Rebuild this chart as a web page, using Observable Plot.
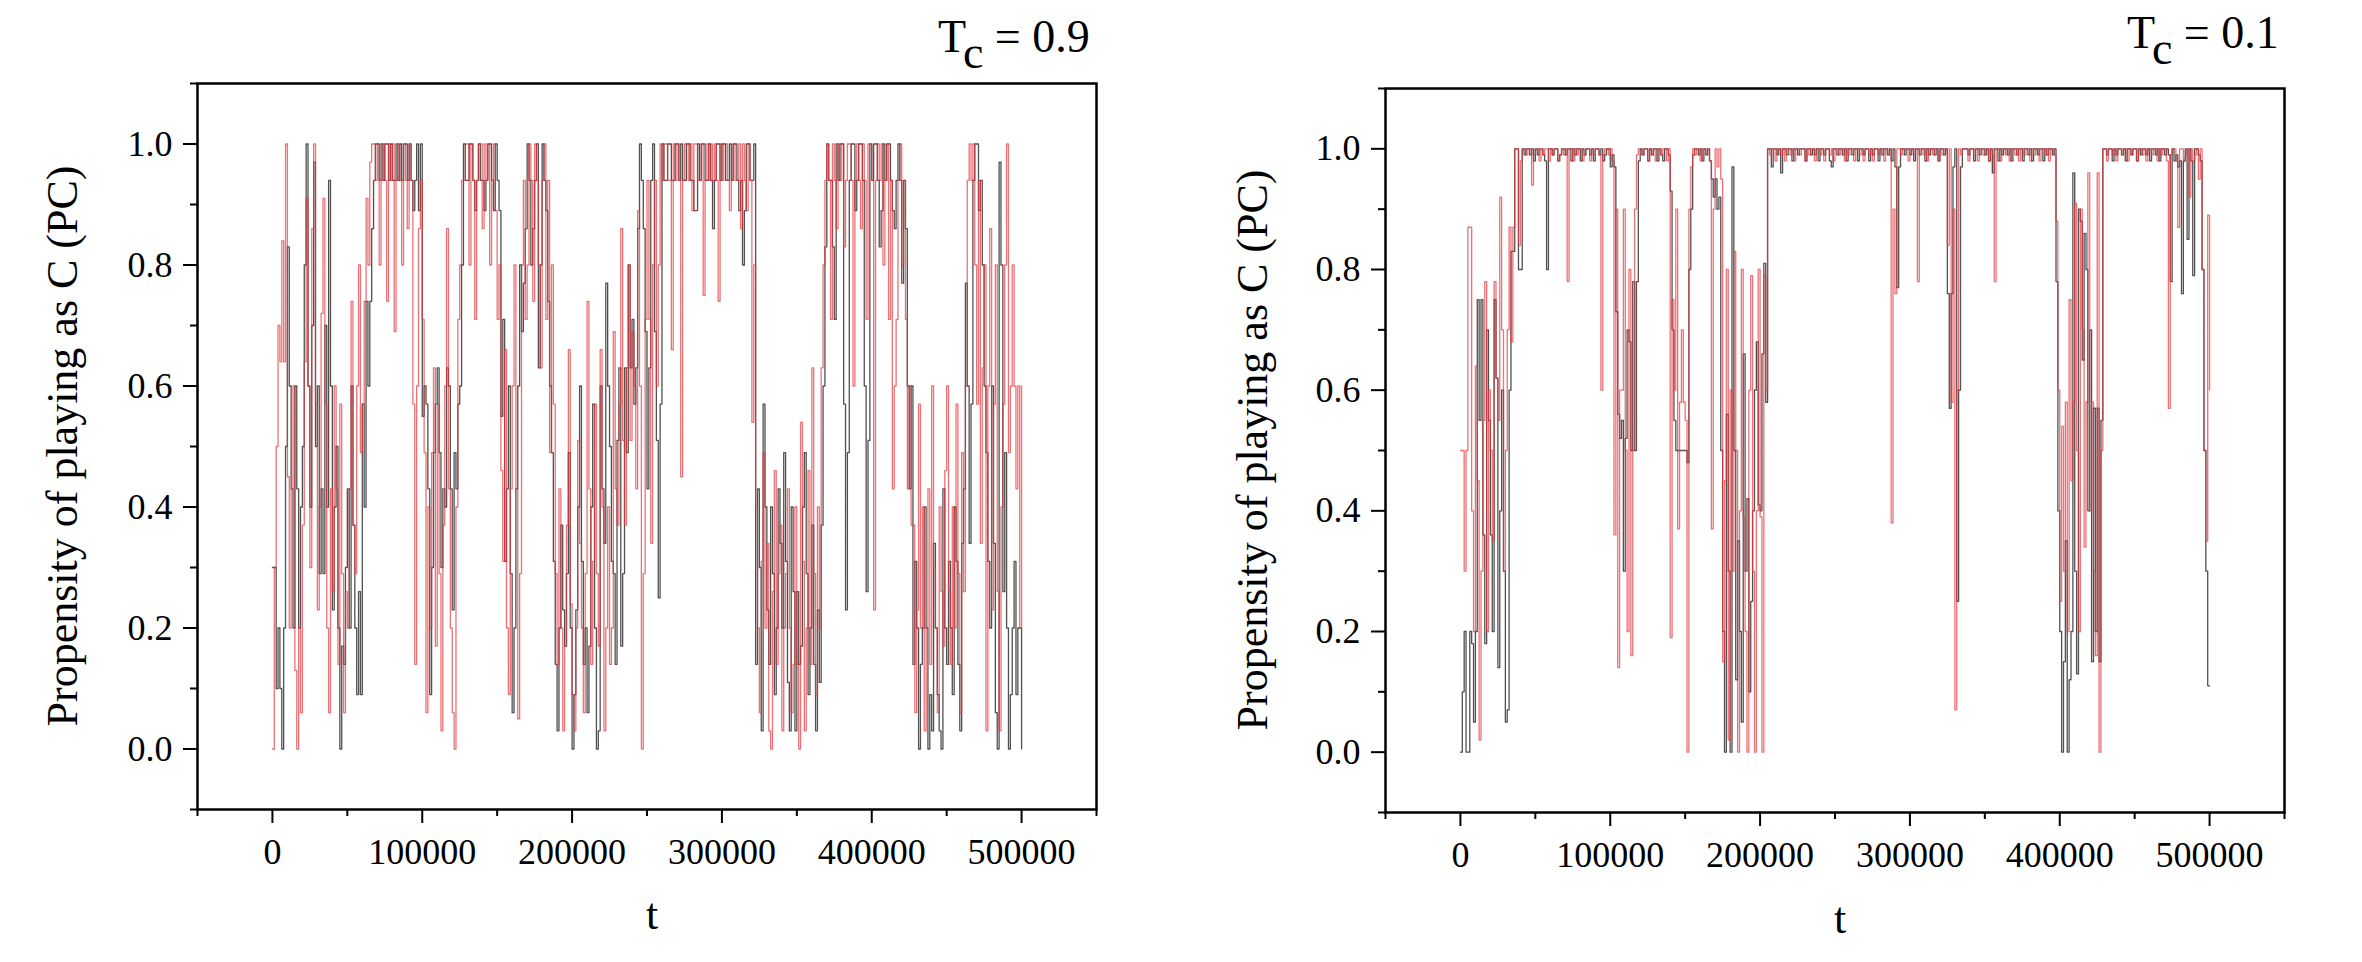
<!DOCTYPE html>
<html>
<head>
<meta charset="utf-8">
<script src="https://cdn.jsdelivr.net/npm/d3@7"></script>
<script src="https://cdn.jsdelivr.net/npm/@observablehq/plot@0.6"></script>
<style>
  html, body { margin: 0; padding: 0; background: #fff; }
  #fig { position: relative; width: 2362px; height: 962px; background: #fff; overflow: hidden; }
  .panel { position: absolute; top: 0; }
  #overlay { position: absolute; left: 0; top: 0; pointer-events: none; }
</style>
</head>
<body>
<div id="fig">
  <div id="left" class="panel" style="left:0px"></div>
  <div id="right" class="panel" style="left:1181px"></div>
</div>
<script>
// ---- data: propensity samples on a regular time grid, t = 0 .. 500000 ----
const tStep = 1250;   // sampling interval of the series below

const titles = ["0.9", "0.1"];
const yLabel = "Propensity of playing as C (PC)";
const xLabel = "t";
const xTicks = [0, 100000, 200000, 300000, 400000, 500000];
const xMinorTicks = [-50000, 50000, 150000, 250000, 350000, 450000, 550000];
const yTicks = [0, 0.2, 0.4, 0.6, 0.8, 1.0];
const yMinorTicks = [-0.1, 0.1, 0.3, 0.5, 0.7, 0.9, 1.1];

// Tc = 0.9 (left), black series
const leftBlack = [
  0.3,0.3,0.1,0.2,0.1,0,0.2,0.5,0.83,0.6,0.43,0.2,0.6,0.43,0.2,0.4,0.5,0.8,1,0.6,0.4,0.7,0.97,0.5,0.6,0.29,0.43,0.29,0.7,0.4,0.94,0.6,0.23,0.4,0.5,0.2,0,0.17,0.14,0.3,0.43,0.2,0.6,0.37,0.2,0.09,0.26,0.09,0.57,0.4,0.74,0.6,0.74,0.86,
  0.94,1,1,0.94,1,0.94,1,1,0.94,1,0.94,0.94,1,0.94,1,0.94,1,1,0.94,1,0.94,0.89,0.94,1,0.89,1,
  0.55,0.6,0.57,0.43,0.09,0.3,0.49,0.57,0.63,0.49,0.3,0.43,0.4,0.63,0.6,0.43,0.23,0.49,0.43,0.57,0.6,0.8,
  1,0.94,0.94,1,1,0.94,0.89,0.94,1,0.94,0.94,0.89,0.94,1,1,0.94,0.89,1,0.94,0.89,
  0.55,0.71,0.31,0.43,0.6,0.29,0.06,0.2,0.43,0.6,0.8,0.69,
  0.77,0.86,1,0.94,0.8,0.86,0.94,1,0.63,0.8,1,0.94,0.89,0.74,0.6,0.49,
  0.31,0.14,0.03,0.2,0.37,0.23,0.17,0.29,0.49,0.2,0,0.09,0.23,0.4,0.6,0.31,0.14,0.2,0.06,0.17,0.4,0.57,0.2,0,0.03,0.6,0.43,0.34,0.77,0.6,0.5,0.31,0.29,0.14,0.51,0.63,0.17,0.29,0.63,0.49,0.8,0.63,0.71,0.57,
  0.63,0.86,1,0.94,0.86,0.69,0.43,0.63,0.94,1,0.69,0.51,0.25,0.57,1,0.94,
  0.94,1,1,0.94,0.94,1,1,0.94,1,0.94,0.94,1,1,0.94,0.94,0.89,0.89,1,0.94,1,1,0.94,0.94,1,0.94,0.86,0.94,1,1,0.94,1,1,0.94,0.94,1,0.94,1,1,0.94,0.89,0.94,0.8,0.89,1,1,0.94,0.94,1,
  0.14,0.43,0.3,0.03,0.57,0.4,0.23,0.14,0.4,0.29,0.09,0.2,0.43,0.34,0.2,0.49,0.31,0.11,0.03,0.4,0.26,0.03,0.26,0.14,0.17,0.4,0.49,0.29,0.09,0.2,0.37,0.14,0.03,0.23,0.11,0.37,
  0.6,0.83,1,0.94,0.94,0.83,0.71,1,0.94,1,1,0.57,0.23,0.49,0.94,1,1,0.89,0.94,1,1,0.94,0.6,0.26,0.51,1,0.94,1,1,0.94,0.83,0.89,1,0.94,1,1,0.94,0.89,0.86,0.94,1,0.94,0.77,0.94,0.86,0.6,0.43,0.6,
  0.14,0.31,0.2,0,0.14,0.2,0.4,0.2,0,0.09,0.03,0.34,0.2,0.09,0.03,0,0.43,0.2,0.14,0.31,0.2,0.09,0.4,0.31,0.14,0.03,0.34,0.43,
  0.77,0.6,0.34,0.57,0.94,1,1,0.89,0.94,0.8,0.6,0.49,0.31,0.2,0.6,0.34,0.06,0,0.97,0.8,0.26,0.49,0.2,0,0.09,0.2,0.31,0.09,0.2,0.2,0
];
// Tc = 0.9 (left), red series
const leftRed = [
  0,0.3,0.5,0.7,0.64,0.84,0.64,1,0.45,0.2,0.43,0.6,0.13,0,0.2,0.06,0.37,0.64,0.91,0.6,0.3,0.86,1,0.57,0.23,0.4,0.72,0.91,0.57,0.2,0.06,0.43,0.26,0.6,0.43,0.14,0.57,0.29,0.06,0.26,0.2,0.43,0.74,0.37,0.29,0.6,0.8,0.49,0.57,0.74,0.91,0.8,0.97,1,
  1,0.94,1,0.8,0.94,1,0.94,0.74,1,0.94,1,0.69,0.94,1,0.94,0.8,1,0.94,0.86,1,0.94,0.57,0.14,0.6,0.86,0.94,
  0.71,0.49,0.06,0.4,0.2,0.49,0.63,0.17,0.57,0.29,0.03,0.37,0.6,0.86,0.43,0.2,0.06,0,0.4,0.71,0.8,0.94,
  0.94,1,1,0.8,1,0.94,0.71,0.94,1,1,0.86,1,0.94,1,0.8,0.94,1,0.89,0.71,0.8,
  0.46,0.31,0.66,0.2,0.09,0.43,0.6,0.8,0.43,0.05,0.29,0.8,
  0.94,0.71,0.8,1,0.94,0.74,1,0.94,0.8,0.63,0.94,1,0.71,0.94,0.49,0.8,
  0.57,0.29,0.14,0.43,0.2,0.03,0.17,0.37,0.66,0.24,0.09,0.03,0.2,0.51,0.34,0.2,0.06,0.29,0.74,0.43,0.14,0.31,0.57,0.29,0.17,0.66,0.4,0.03,0.2,0.4,0.14,0.2,0.69,0.43,0.37,0.57,0.86,0.51,0.37,0.63,0.8,0.51,0.69,0.6,
  0.43,0.89,0.6,0,0.29,0.71,0.94,0.71,0.34,0.8,0.94,0.6,0.8,1,0.94,1,
  1,0.94,0.94,0.66,1,0.94,1,0.94,0.45,0.94,1,1,0.94,1,0.89,1,1,0.94,0.94,1,0.75,0.94,1,0.94,1,0.94,1,0.94,0.74,1,0.94,1,1,0.94,0.89,0.94,1,0.94,0.94,1,0.86,1,0.94,0.89,1,0.94,0.54,0.8,
  0.4,0.2,0.06,0.31,0.49,0.2,0.34,0.03,0,0.26,0.46,0.14,0.29,0.37,0.03,0.2,0.29,0.43,0.2,0.06,0.14,0.4,0.14,0,0.54,0.31,0.03,0.2,0.46,0.14,0.63,0.29,0.09,0.4,0.2,0.63,
  0.8,0.94,1,0.94,0.71,1,0.94,0.86,1,0.94,1,0.83,0.94,1,1,0.94,0.6,0.94,1,0.94,0.86,1,0.94,0.71,1,1,0.94,0.23,0.94,1,0.94,1,0.8,0.94,1,0.71,0.94,0.43,0.6,0.71,0.94,1,0.8,0.94,0.71,0.43,0.6,0.37,
  0.37,0.06,0.23,0.57,0.2,0.4,0.03,0.2,0.43,0.14,0.6,0.3,0.2,0.06,0.4,0.26,0.17,0.46,0.6,0.26,0.14,0.4,0.2,0.57,0.29,0.06,0.49,0.26,
  0.6,0.94,1,0.94,1,0.8,0.57,0.94,0.34,0.63,0.8,0.03,0.6,0.86,0.23,0.57,0.8,0.26,0.03,0.4,0.57,0.8,1,0.49,0.6,0.8,0.6,0.43,0.6,0.2,0.6
];
// Tc = 0.1 (right), black series
const rightBlack = [
  0,0.1,0.2,0,0,0.2,0.18,0.05,0.2,0.75,0.55,0.75,0.36,0.18,0.7,0.55,0.36,0.2,0.75,0.62,0.14,0.4,0.6,0.3,0.05,0.07,0.6,0.83,
  0.83,1,1,0.8,0.8,1,0.99,1,1,0.99,1,0.98,1,0.99,1,1,0.99,0.98,0.8,1,1,0.99,1,1,0.98,0.99,1,1,0.99,1,1,0.98,1,0.99,1,1,0.98,1,0.99,1,1,0.99,1,0.98,1,1,0.99,1,0.98,0.99,1,1,0.97,0.99,
  0.97,0.73,0.56,0.52,0.55,0.3,0.52,0.7,0.68,0.5,0.78,0.5,0.78,0.98,
  1,0.99,1,1,0.98,1,0.99,1,1,0.98,1,0.99,0.98,1,1,0.99,
  0.93,0.7,0.55,0.5,0.5,0.5,0.5,0.5,0.5,0.48,0.8,0.9,
  0.99,1,1,0.99,1,0.98,1,0.99,1,0.98,0.95,0.92,0.95,0.9,0.92,0.5,
  0.2,0,0.56,0.3,0,0.97,0.5,0.12,0.35,0.2,0.05,0.66,0.3,0.42,0.1,0.25,0.4,0.6,0.68,0.41,0.4,0.66,0.81,0.58,
  1,1,0.97,1,1,0.99,1,0.96,1,1,0.99,1,1,0.98,1,1,0.99,1,1,1,0.98,1,1,0.99,1,0.99,1,0.98,1,1,0.99,1,1,0.98,0.97,1,1,0.99,1,1,0.99,1,0.98,1,1,0.99,1,1,0.98,1,1,0.99,1,1,0.98,1,0.99,1,1,0.98,1,0.99,1,1,0.99,1,0.98,1,
  0.97,0.77,0.97,1,1,0.99,
  1,1,0.99,1,0.98,1,1,0.99,1,1,0.98,1,0.99,1,1,0.99,1,0.98,1,1,0.99,1,
  0.76,0.57,0.76,0.97,1,0.25,0.6,0.97,1,1,
  1,0.99,1,1,0.98,1,1,0.99,1,1,0.99,1,0.98,1,0.96,1,1,0.98,1,0.99,1,1,0.99,1,0.98,1,1,0.99,1,1,0.98,1,1,0.99,1,0.98,1,1,0.99,1,1,0.98,1,0.99,1,1,0.99,1,
  0.78,0.4,0.2,0,0.15,0.35,0,0.12,0.2,0.96,0.3,0.13,0.9,0.88,0.65,0.86,0.8,0.4,0.7,0.15,0.57,0.2,0.57,0.15,0.55,1,
  1,0.99,1,1,0.98,1,0.99,1,1,0.99,1,0.98,1,1,0.99,1,1,0.98,1,0.99,1,1,0.99,1,0.98,1,1,0.99,1,0.98,1,1,0.99,1,
  0.99,0.78,1,0.98,0.99,0.97,0.98,0.76,0.98,1,0.85,1,0.98,0.79,1,1,0.99,0.98,0.8,0.5,0.3,0.11,0.11
];
// Tc = 0.1 (right), red series
const rightRed = [
  0.5,0.5,0.3,0.5,0.87,0.87,0.4,0.2,0.64,0.45,0.02,0.3,0.55,0.78,0.2,0.6,0.5,0.35,0.78,0.62,0.55,0.92,0.7,0.3,0.5,0.7,0.87,0.68,
  0.87,1,1,0.84,0.98,1,1,0.99,1,1,0.94,0.99,1,1,0.98,1,0.99,1,1,0.98,1,0.99,1,1,0.98,0.99,1,0.99,1,0.78,1,1,0.98,1,0.99,1,1,0.98,0.99,1,1,0.98,1,0.99,1,1,0.99,0.6,0.99,1,1,0.99,1,0.98,
  0.36,0.9,0.14,0.6,0.6,0.9,0.5,0.2,0.8,0.16,0.5,0.9,0.99,1,
  1,0.99,1,1,0.98,1,0.99,1,0.98,1,1,0.99,1,1,0.98,1,
  0.19,0.75,0.6,0.9,0.37,0.58,0.7,0.58,0.55,0,0.9,0.97,
  1,0.99,1,1,0.98,1,1,0.99,1,0.98,0.37,0.9,1,0.97,1,0.95,
  0.15,0.45,0.8,0.02,0.6,0.3,0.83,0.5,0,0.4,0.8,0.39,0.2,0,0.6,0.79,0.3,0,0.4,0.8,0.39,0,0.79,0.6,
  1,0.99,1,1,0.98,1,1,0.99,1,0.98,1,1,0.99,1,0.98,1,1,0.99,1,1,0.98,1,0.99,1,1,0.98,1,1,0.99,1,0.98,1,1,0.99,1,0.98,1,1,0.99,1,1,0.98,1,0.99,1,1,0.98,1,1,0.99,1,0.98,1,1,0.99,1,0.98,1,1,0.99,1,1,0.98,1,0.99,1,0.38,0.9,
  0.76,1,1,0.99,1,1,
  1,0.98,1,1,0.99,1,0.78,1,1,0.99,1,0.98,1,1,0.99,1,1,0.98,1,0.99,1,1,
  0.84,1,0.58,0.9,0.07,0.6,1,0.99,1,1,
  1,0.98,1,1,0.99,1,0.98,1,1,0.99,1,1,0.98,1,0.99,0.78,1,1,0.98,1,1,0.99,1,0.98,1,1,0.99,1,0.98,1,1,0.99,1,1,0.98,1,0.99,1,1,0.98,1,1,0.99,1,0.98,1,1,0.99,
  0.88,0.6,0.25,0.54,0.3,0.58,0.2,0.75,0.45,0.58,0.91,0.5,0.2,0.9,0.7,0.34,0.58,0.96,0.4,0.58,0.3,0.16,0.96,0,0.5,1,
  1,0.98,1,1,0.99,1,0.98,1,1,0.99,1,1,0.98,1,0.99,1,1,0.98,1,1,0.99,1,0.98,1,1,0.99,1,1,0.98,1,0.99,1,1,0.98,
  0.57,0.99,1,1,0.98,0.87,1,1,0.98,0.99,1,0.92,1,0.98,0.99,1,0.95,1,0.8,0.5,0.35,0.89,0.6
];

const blackColor = "#333333";
const redColor = "#e2363c";

function toRows(values) {
  return values.map((v, i) => ({t: i * tStep, v}));
}

function panel(black, red, m) {
  return Plot.plot({
    width: 1181,
    height: 962,
    marginLeft: m.left,
    marginRight: m.right,
    marginTop: m.top,
    marginBottom: m.bottom,
    style: {fontFamily: "'Liberation Serif', 'Times New Roman', serif", fontSize: "36px", color: "#000", background: "#fff", overflow: "visible"},
    x: {domain: [-50000, 550000], label: null},
    y: {domain: [-0.1, 1.1], label: null},
    marks: [
      Plot.line(toRows(black), {x: "t", y: "v", curve: "step-after", stroke: blackColor, strokeOpacity: 0.85, strokeWidth: 1.3}),
      Plot.line(toRows(red), {x: "t", y: "v", curve: "step-after", stroke: redColor, strokeOpacity: 0.7, strokeWidth: 1.3}),
      Plot.axisX({ticks: xTicks, tickSize: 14, tickPadding: 15, strokeWidth: 2, tickFormat: d => String(d), fontSize: 36, label: null}),
      Plot.axisX({ticks: xMinorTicks, tickSize: 7, strokeWidth: 2, tickFormat: () => "", label: null}),
      Plot.axisY({ticks: yTicks, tickSize: 14, tickPadding: 11, strokeWidth: 2, tickFormat: d => d.toFixed(1), fontSize: 36, label: null}),
      Plot.axisY({ticks: yMinorTicks, tickSize: 7, strokeWidth: 2, tickFormat: () => "", label: null}),
      Plot.frame({stroke: "#000", strokeWidth: 2.5})
    ]
  });
}

document.getElementById("left").appendChild(
  panel(leftBlack, leftRed, {left: 197, right: 85, top: 83, bottom: 153})
);
document.getElementById("right").appendChild(
  panel(rightBlack, rightRed, {left: 204, right: 78, top: 88, bottom: 150})
);

// Titles and axis labels as text
const svg = d3.select("#fig").append("svg")
  .attr("id", "overlay")
  .attr("width", 2362).attr("height", 962)
  .style("font-family", "'Liberation Serif', 'Times New Roman', serif")
  .style("white-space", "pre");

function title(x, y, val) {
  const t = svg.append("text").attr("x", x).attr("y", y).attr("font-size", 46).attr("fill", "#000");
  t.append("tspan").text("T");
  t.append("tspan").attr("dy", 16).text("c");
  t.append("tspan").attr("dy", -16).text(" = " + val);
}
title(938, 52, titles[0]);
title(2127, 48, titles[1]);

function ylab(x, y) {
  svg.append("text").attr("transform", `translate(${x},${y}) rotate(-90)`)
    .attr("text-anchor", "middle").attr("font-size", 44).attr("fill", "#000").text(yLabel);
}
ylab(77, 446);
ylab(1267, 450);

function xlab(x, y) {
  svg.append("text").attr("x", x).attr("y", y).attr("text-anchor", "middle")
    .attr("font-size", 44).attr("fill", "#000").text(xLabel);
}
xlab(652, 929);
xlab(1840, 933);
</script>
</body>
</html>
